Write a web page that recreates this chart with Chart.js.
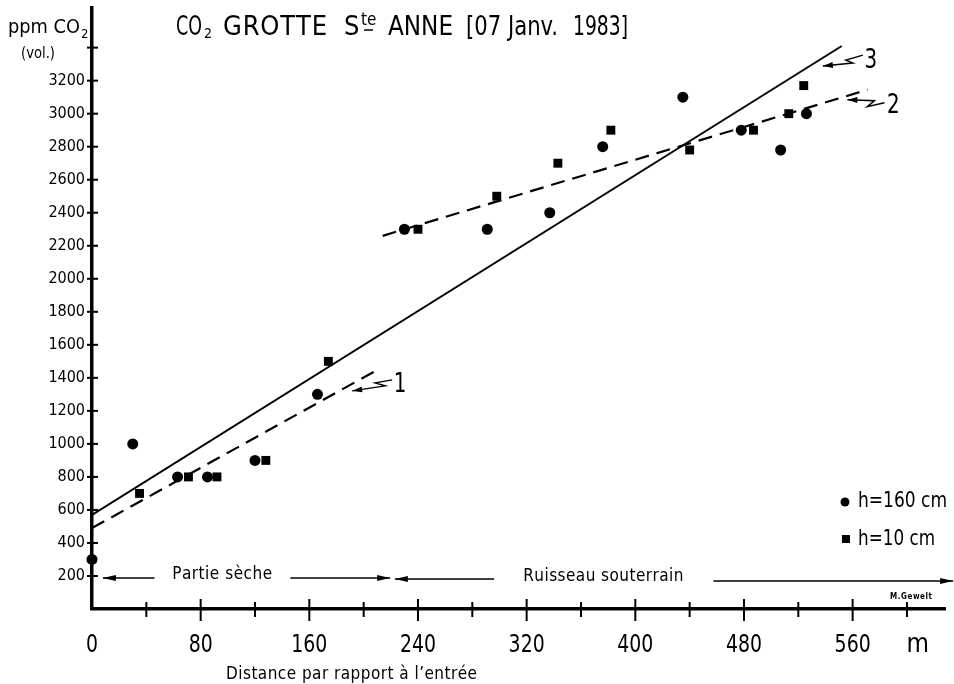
<!DOCTYPE html>
<html>
<head>
<meta charset="utf-8">
<script src="https://cdn.jsdelivr.net/npm/chart.js@4"></script>
<style>
  html, body { margin: 0; padding: 0; background: #fff; }
  canvas { display: block; }
</style>
</head>
<body>
<canvas id="co2Chart" width="954" height="684"></canvas>
<script>
var FONT = "'DejaVu Sans Condensed', 'DejaVu Sans', sans-serif";

// h = 160 cm (circles)
var highX = [0, 30, 63, 85, 120, 166, 230, 291, 337, 376, 435, 478, 507, 526];
var highY = [300, 1000, 800, 800, 900, 1300, 2300, 2300, 2400, 2800, 3100, 2900, 2780, 3000];

// h = 10 cm (squares)
var lowX = [35, 71, 92, 128, 174, 240, 298, 343, 382, 440, 487, 513, 524];
var lowY = [700, 800, 800, 900, 1500, 2300, 2500, 2700, 2900, 2780, 2900, 3000, 3170];

// fitted lines 1, 2 (dashed) and 3 (solid), start and end points
var line1X = [0, 210], line1Y = [490, 1448];
var line2X = [214, 571], line2Y = [2260, 3145];
var line3X = [0, 552], line3Y = [570, 3410];

// tick labels
var xTickValues = [0, 80, 160, 240, 320, 400, 480, 560];
var yTickValues = [200, 400, 600, 800, 1000, 1200, 1400, 1600, 1800, 2000, 2200, 2400, 2600, 2800, 3000, 3200];
var xUnit = 'm';

function pts(xs, ys) {
  return xs.map(function (x, i) { return { x: x, y: ys[i] }; });
}

// draw text so that it fills the span x0..x1
function spaced(ctx, text, x0, x1, y) {
  var chars = Array.from(text);
  var widths = chars.map(function (c) { return ctx.measureText(c).width; });
  var total = widths.reduce(function (a, b) { return a + b; }, 0);
  var gap = chars.length > 1 ? ((x1 - x0) - total) / (chars.length - 1) : 0;
  if (gap < 0) {
    ctx.fillText(text, x0, y, x1 - x0);
    return;
  }
  var x = x0;
  chars.forEach(function (c, i) {
    ctx.fillText(c, x, y);
    x += widths[i] + gap;
  });
}

// narrow lettering, centred on x
function narrow(ctx, text, x, y, sx) {
  ctx.save();
  ctx.translate(x, y);
  ctx.scale(sx, 1);
  ctx.textAlign = 'center';
  ctx.fillText(text, 0, 0);
  ctx.restore();
}

function arrowHead(ctx, fromX, fromY, toX, toY, len, half) {
  var a = Math.atan2(toY - fromY, toX - fromX);
  ctx.beginPath();
  ctx.moveTo(toX, toY);
  ctx.lineTo(toX - len * Math.cos(a) + half * Math.sin(a), toY - len * Math.sin(a) - half * Math.cos(a));
  ctx.lineTo(toX - len * Math.cos(a) - half * Math.sin(a), toY - len * Math.sin(a) + half * Math.cos(a));
  ctx.closePath();
  ctx.fill();
}

function hArrow(ctx, x1, x2, y) {
  ctx.beginPath();
  ctx.moveTo(x1, y);
  ctx.lineTo(x2, y);
  ctx.stroke();
  arrowHead(ctx, x1, y, x2, y, 13, 3);
}

// squiggly pointer from a line label towards its line
function pointer(ctx, ax, ay, offs) {
  ctx.beginPath();
  offs.forEach(function (o, i) {
    if (i === 0) ctx.moveTo(ax + o[0], ay + o[1]);
    else ctx.lineTo(ax + o[0], ay + o[1]);
  });
  ctx.stroke();
  var p = offs[offs.length - 2], q = offs[offs.length - 1];
  arrowHead(ctx, ax + p[0], ay + p[1], ax + q[0], ay + q[1], 10, 3);
}

var decor = {
  id: 'decor',
  afterDraw: function (chart) {
    var ctx = chart.ctx;
    var xs = chart.scales.x, ys = chart.scales.y;
    var left = chart.chartArea.left, bottom = chart.chartArea.bottom;
    ctx.save();
    ctx.fillStyle = '#000';
    ctx.strokeStyle = '#000';

    // tick marks crossing the axes
    ctx.lineWidth = 2;
    for (var v = 200; v <= 3400; v += 200) {
      var py = ys.getPixelForValue(v);
      ctx.beginPath();
      ctx.moveTo(left - 5, py);
      ctx.lineTo(left + 6, py);
      ctx.stroke();
    }
    for (var u = 40; u <= 600; u += 40) {
      var px = xs.getPixelForValue(u);
      var major = u % 80 === 0;
      ctx.beginPath();
      ctx.moveTo(px, bottom - (major ? 10 : 7));
      ctx.lineTo(px, bottom + (major ? 12 : 8));
      ctx.stroke();
    }

    // tick labels
    ctx.textBaseline = 'middle';
    ctx.textAlign = 'right';
    ctx.font = '16px ' + FONT;
    yTickValues.forEach(function (t) {
      ctx.fillText(String(t), left - 7, ys.getPixelForValue(t));
    });
    ctx.textBaseline = 'alphabetic';
    ctx.font = '25px ' + FONT;
    xTickValues.forEach(function (t) {
      narrow(ctx, String(t), xs.getPixelForValue(t), 652, 0.84);
    });
    ctx.font = '27px ' + FONT;
    narrow(ctx, xUnit, xs.getPixelForValue(608), 652, 0.95);

    ctx.textAlign = 'left';

    // title
    ctx.font = '27px ' + FONT;
    spaced(ctx, 'CO', 176, 202, 35);
    spaced(ctx, 'GROTTE', 223, 327, 35);
    ctx.fillText('S', 344, 35);
    spaced(ctx, 'ANNE', 388, 453, 35);
    spaced(ctx, '[07 Janv.', 466, 558, 35);
    spaced(ctx, '1983]', 573, 628, 35);
    ctx.font = '14px ' + FONT;
    ctx.fillText('2', 204, 38);
    ctx.font = '17px ' + FONT;
    ctx.fillText('te', 361, 25);
    ctx.lineWidth = 1.5;
    ctx.beginPath();
    ctx.moveTo(364, 30);
    ctx.lineTo(373, 30);
    ctx.stroke();

    // y axis title
    ctx.font = '20px ' + FONT;
    spaced(ctx, 'ppm CO', 8, 80, 33);
    ctx.font = '13px ' + FONT;
    ctx.fillText('2', 81, 38);
    ctx.font = '15px ' + FONT;
    spaced(ctx, '(vol.)', 21, 55, 58);

    // x axis title
    ctx.font = '17px ' + FONT;
    spaced(ctx, 'Distance par rapport à l’entrée', 226, 477, 679);

    // zones along the gallery
    var yz = ys.getPixelForValue(200) + 2;
    ctx.lineWidth = 1.3;
    hArrow(ctx, xs.getPixelForValue(46), xs.getPixelForValue(8), yz);
    hArrow(ctx, xs.getPixelForValue(146), xs.getPixelForValue(219.5), yz);
    hArrow(ctx, xs.getPixelForValue(296), xs.getPixelForValue(223), yz + 1);
    hArrow(ctx, xs.getPixelForValue(457.5), xs.getPixelForValue(634), yz + 3);
    ctx.font = '17px ' + FONT;
    spaced(ctx, 'Partie sèche', xs.getPixelForValue(59), xs.getPixelForValue(132.6), yz + 1);
    spaced(ctx, 'Ruisseau souterrain', xs.getPixelForValue(317.5), xs.getPixelForValue(435.4), yz + 3);

    // line labels
    ctx.font = '26px ' + FONT;
    ctx.lineWidth = 1.5;
    var a1x = xs.getPixelForValue(223.2), a1y = ys.getPixelForValue(1315);
    narrow(ctx, '1', a1x + 5, a1y, 0.85);
    pointer(ctx, a1x, a1y, [[-3, -12], [-20, -9], [-10, -6], [-43, -1]]);
    var a3x = xs.getPixelForValue(569), a3y = ys.getPixelForValue(3276);
    narrow(ctx, '3', a3x + 6, a3y, 0.85);
    pointer(ctx, a3x, a3y, [[-2, -13], [-19, -8], [-12, -5], [-42, -2]]);
    var a2x = xs.getPixelForValue(585.6), a2y = ys.getPixelForValue(3006);
    narrow(ctx, '2', a2x + 6, a2y, 0.85);
    pointer(ctx, a2x, a2y, [[-3, -10], [-20, -6], [-13, -12], [-40, -13]]);

    // legend
    ctx.beginPath();
    ctx.arc(845, 502, 4.5, 0, Math.PI * 2);
    ctx.fill();
    ctx.fillRect(842, 535, 8, 8);
    ctx.font = '22px ' + FONT;
    spaced(ctx, 'h=160 cm', 858, 947, 507);
    spaced(ctx, 'h=10 cm', 858, 935, 545);

    // credit
    ctx.font = 'bold 8px ' + FONT;
    spaced(ctx, 'M.Gewelt', 890, 932, 599);

    ctx.restore();
  }
};

var ctx = document.getElementById('co2Chart').getContext('2d');

var co2Chart = new Chart(ctx, {
  type: 'scatter',
  data: {
    datasets: [
      {
        label: 'h = 160 cm',
        data: pts(highX, highY),
        pointStyle: 'circle',
        pointRadius: 5.5,
        backgroundColor: '#000',
        borderWidth: 0,
        clip: false
      },
      {
        label: 'h = 10 cm',
        data: pts(lowX, lowY),
        pointStyle: 'rect',
        pointRadius: 6.3,
        backgroundColor: '#000',
        borderWidth: 0,
        clip: false
      },
      {
        type: 'line',
        label: '1',
        data: pts(line1X, line1Y),
        borderColor: '#000',
        borderWidth: 2.2,
        borderDash: [14, 8],
        pointRadius: 0,
        fill: false
      },
      {
        type: 'line',
        label: '2',
        data: pts(line2X, line2Y),
        borderColor: '#000',
        borderWidth: 2.2,
        borderDash: [14, 8],
        pointRadius: 0,
        fill: false
      },
      {
        type: 'line',
        label: '3',
        data: pts(line3X, line3Y),
        borderColor: '#000',
        borderWidth: 2,
        pointRadius: 0,
        fill: false
      }
    ]
  },
  options: {
    responsive: false,
    animation: false,
    layout: { padding: { top: 8, right: 9, left: 0, bottom: 0 } },
    plugins: {
      legend: { display: false },
      tooltip: { enabled: false }
    },
    scales: {
      x: {
        type: 'linear',
        min: 0,
        max: 628,
        afterFit: function (s) {
          s.height = 75;
          s.paddingLeft = 0;
          s.paddingRight = 0;
        },
        grid: { display: false, drawTicks: false },
        border: { color: '#000', width: 3.5 },
        ticks: { display: false, stepSize: 40 }
      },
      y: {
        min: 0,
        max: 3640,
        afterFit: function (s) {
          s.width = 92;
          s.paddingTop = 0;
          s.paddingBottom = 0;
        },
        grid: { display: false, drawTicks: false },
        border: { color: '#000', width: 3.5 },
        ticks: { display: false, stepSize: 200 }
      }
    }
  },
  plugins: [decor]
});
</script>
</body>
</html>
